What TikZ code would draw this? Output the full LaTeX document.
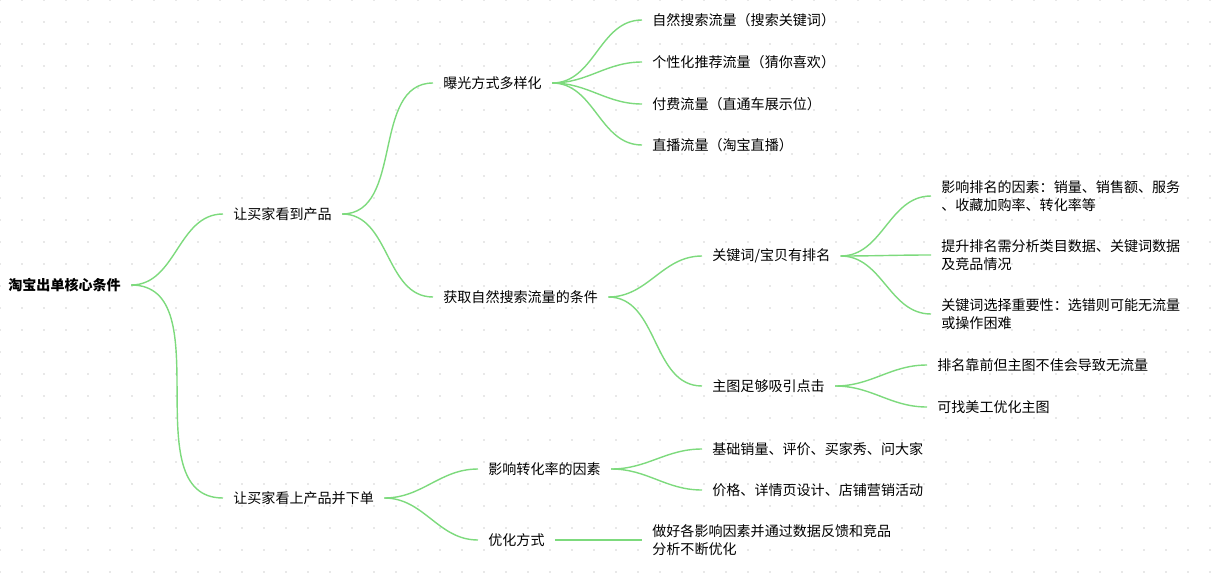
\documentclass[tikz,border=0pt]{standalone}
\usepackage{fontspec}
\setmainfont{Noto Sans CJK SC}
\begin{document}
\begin{tikzpicture}[x=0.02cm,y=-0.02cm,
	topic/.style = {anchor=west, inner xsep=10*0.02cm, inner ysep=0pt, align=left,
		font=\fontsize{8}{10.5}\selectfont},
	link/.style = {draw={rgb,255:red,125;green,218;blue,125}, line width=0.8pt}]
	\useasboundingbox (0,0) rectangle (1211,575);
	\foreach \i in {0,22,...,1210} \foreach \j in {0,22,...,574}
		\fill[black!12] (\i,\j) circle (0.6pt);
	
	\node[topic,font=\fontsize{8}{10.5}\selectfont\bfseries] (root) at (-2,285) {淘宝出单核心条件};
	\node[topic] (see) at (223,214) {让买家看到产品};
	\node[topic] (buy) at (223,498) {让买家看上产品并下单};
	\node[topic] (expo) at (433,83) {曝光方式多样化};
	\node[topic] (cond) at (433,297) {获取自然搜索流量的条件};
	\node[topic] (e1) at (642,20) {自然搜索流量（搜索关键词）};
	\node[topic] (e2) at (642,62) {个性化推荐流量（猜你喜欢）};
	\node[topic] (e3) at (642,104) {付费流量（直通车展示位）};
	\node[topic] (e4) at (642,145) {直播流量（淘宝直播）};
	\node[topic] (rank) at (702,256) {关键词/宝贝有排名};
	\node[topic] (pic) at (702,386) {主图足够吸引点击};
	\node[topic] (r1) at (931,196) {影响排名的因素：销量、销售额、服务\\、收藏加购率、转化率等};
	\node[topic] (r2) at (931,255) {提升排名需分析类目数据、关键词数据\\及竞品情况};
	\node[topic] (r3) at (931,314) {关键词选择重要性：选错则可能无流量\\或操作困难};
	\node[topic] (p1) at (927,365) {排名靠前但主图不佳会导致无流量};
	\node[topic] (p2) at (927,407) {可找美工优化主图};
	\node[topic] (conv) at (478,469) {影响转化率的因素};
	\node[topic] (opt) at (478,540) {优化方式};
	\node[topic] (c1) at (702,449) {基础销量、评价、买家秀、问大家};
	\node[topic] (c2) at (702,490) {价格、详情页设计、店铺营销活动};
	\node[topic] (o1) at (642,540) {做好各影响因素并通过数据反馈和竞品\\分析不断优化};
	
	\foreach \a/\b in {root/see,root/buy,see/expo,see/cond,expo/e1,expo/e2,expo/e3,expo/e4,
		cond/rank,cond/pic,rank/r1,rank/r2,rank/r3,pic/p1,pic/p2,
		buy/conv,buy/opt,conv/c1,conv/c2,opt/o1}
		\draw[link] (\a.east) to[out=0,in=180] (\b.west);
	
\end{tikzpicture}
\end{document}
